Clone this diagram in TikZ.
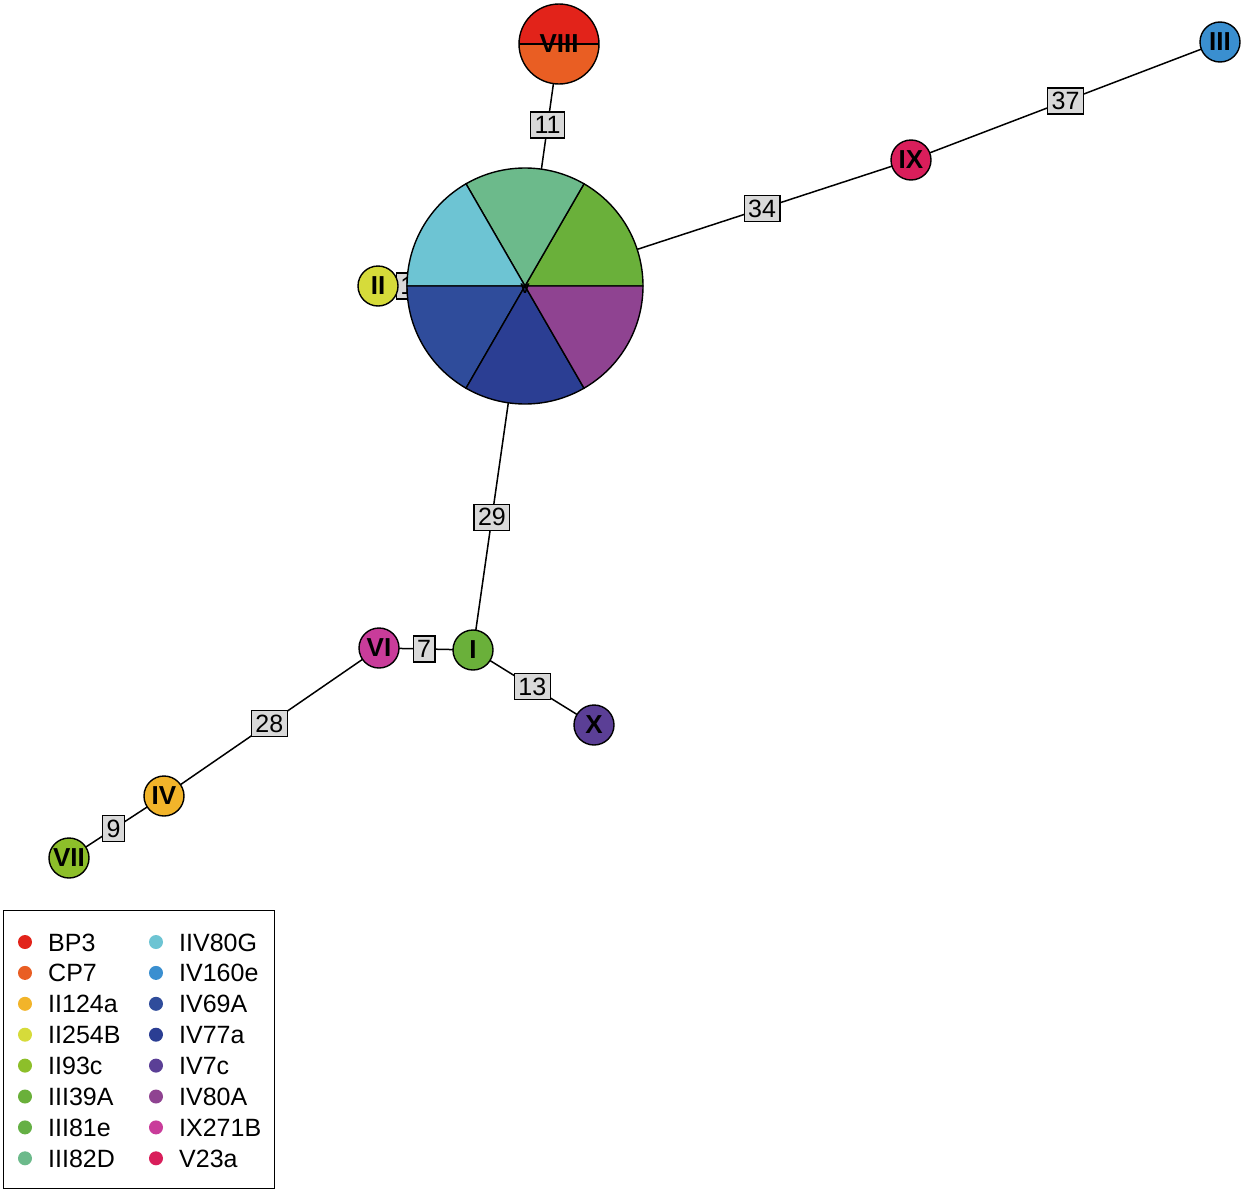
\documentclass[tikz,border=0pt]{standalone}
\usepackage{fontspec}
\setmainfont{Liberation Sans}
\usetikzlibrary{backgrounds}
\definecolor{cBP3}{HTML}{E2231A}
\definecolor{cCP7}{HTML}{E95E23}
\definecolor{cIIa}{HTML}{F2B42A}
\definecolor{cIIb}{HTML}{D6DB3A}
\definecolor{cIIc}{HTML}{8DBF2A}
\definecolor{cIIIa}{HTML}{6AB03A}
\definecolor{cIIIb}{HTML}{65B045}
\definecolor{cIIId}{HTML}{6CBA8B}
\definecolor{cIIVg}{HTML}{6DC4D3}
\definecolor{cIVe}{HTML}{3A8FD0}
\definecolor{cIVa}{HTML}{2F4C9B}
\definecolor{cIVb}{HTML}{2B3E93}
\definecolor{cIVc}{HTML}{5B3F96}
\definecolor{cIVd}{HTML}{8F4391}
\definecolor{cIXb}{HTML}{C93C9A}
\definecolor{cVa}{HTML}{D91E5B}
\definecolor{lblgray}{HTML}{D9D9D9}
\begin{document}
\begin{tikzpicture}[x=1pt,y=1pt,
  hap/.style={circle,draw,line width=1.4pt,minimum size=40pt,inner sep=0pt,
    font=\fontsize{26}{26}\selectfont\bfseries},
  lab/.style={draw,fill=lblgray,line width=1.2pt,inner xsep=4pt,inner ysep=0pt,
    minimum height=26pt,font=\fontsize{25}{25}\selectfont},
  link/.style={line width=1.5pt},
  slice/.style={draw,line width=1.4pt},
  legtext/.style={anchor=base west,inner sep=0pt,font=\fontsize{25}{25}\selectfont}]
\useasboundingbox (0,0) rectangle (1245,-1191);

% haplotype nodes
\coordinate (V) at (525,-286);
\node[circle,minimum size=236pt,inner sep=0pt] (Vpie) at (V) {};
\node[circle,minimum size=80pt,inner sep=0pt] (VIII) at (559,-44) {};
\node[hap,fill=cIVe] (III) at (1220,-42) {III};
\node[hap,fill=cVa] (IX) at (911,-160) {IX};
\node[hap,fill=cIIb] (II) at (378,-286) {II};
\node[hap,fill=cIIIa] (I) at (473,-650) {I};
\node[hap,fill=cIXb] (VI) at (379,-648) {VI};
\node[hap,fill=cIVc] (X) at (594,-725) {X};
\node[hap,fill=cIIa] (IV) at (164,-796) {IV};
\node[hap,fill=cIIc] (VII) at (69,-858) {VII};

% pie for V
\draw[slice,fill=cIIIa] (V) -- ++(0:118) arc (0:60:118) -- cycle;
\draw[slice,fill=cIIId] (V) -- ++(60:118) arc (60:120:118) -- cycle;
\draw[slice,fill=cIIVg] (V) -- ++(120:118) arc (120:180:118) -- cycle;
\draw[slice,fill=cIVa] (V) -- ++(180:118) arc (180:240:118) -- cycle;
\draw[slice,fill=cIVb] (V) -- ++(240:118) arc (240:300:118) -- cycle;
\draw[slice,fill=cIVd] (V) -- ++(300:118) arc (300:360:118) -- cycle;
\node[inner sep=0pt,font=\fontsize{14}{14}\selectfont\bfseries] at (525,-289) {V};

% VIII split node
\fill[cBP3] (VIII.west) arc (180:0:40) -- cycle;
\fill[cCP7] (VIII.east) arc (0:-180:40) -- cycle;
\draw[line width=1.4pt] (VIII.west) -- (VIII.east);
\draw[line width=1.4pt] (VIII.center) circle (40);
\node[inner sep=0pt,font=\fontsize{26}{26}\selectfont\bfseries] at (VIII.center) {VIII};

% edges and their labels
\begin{pgfonlayer}{background}
\draw[link] (V) -- node[lab,pos=0.665] {11} (VIII.center);
\draw[link] (V) -- node[lab,pos=0.614] {34} (IX.center);
\draw[link] (IX.center) -- node[lab,pos=0.5] {37} (III.center);
\draw[link] (V) -- node[lab,pos=0.635] {29} (I.center);
\draw[link] (II.center) -- node[lab,pos=0.2] {1} (V);
\draw[link] (VI.center) -- node[lab,pos=0.48] {7} (I.center);
\draw[link] (I.center) -- node[lab,pos=0.49] {13} (X.center);
\draw[link] (VI.center) -- node[lab,pos=0.51] {28} (IV.center);
\draw[link] (IV.center) -- node[lab,pos=0.53] {9} (VII.center);
\end{pgfonlayer}

% legend
\node[draw,line width=1.2pt,minimum width=271pt,minimum height=278pt,inner sep=0pt,anchor=north west] (legend) at (3,-910) {};
\foreach \c/\t [count=\i from 0] in {cBP3/BP3,cCP7/CP7,cIIa/II124a,cIIb/II254B,cIIc/II93c,cIIIa/III39A,cIIIb/III81e,cIIId/III82D}{
  \fill[\c] (25,-942-30.9*\i) circle (7);
  \node[legtext] at (48,-951-30.9*\i) {\t};
}
\foreach \c/\t [count=\i from 0] in {cIIVg/IIV80G,cIVe/IV160e,cIVa/IV69A,cIVb/IV77a,cIVc/IV7c,cIVd/IV80A,cIXb/IX271B,cVa/V23a}{
  \fill[\c] (156,-942-30.9*\i) circle (7);
  \node[legtext] at (179,-951-30.9*\i) {\t};
}
\end{tikzpicture}
\end{document}
